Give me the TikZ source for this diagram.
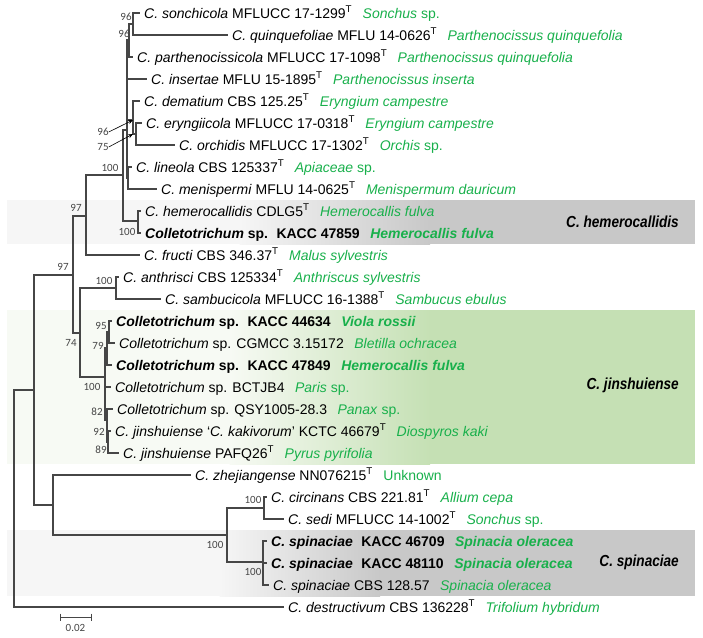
\documentclass[tikz,border=0pt]{standalone}
\usepackage{fontspec}
\setmainfont{Liberation Sans}
\newfontfamily\bootfont{Carlito}
\newfontfamily\cladefont[FakeStretch=0.85]{Liberation Sans}
\usetikzlibrary{arrows.meta,calc}
\definecolor{hostgreen}{RGB}{24,176,75}
\definecolor{treegray}{RGB}{70,70,70}
\definecolor{boxgray}{RGB}{200,200,200}
\definecolor{boxgraylt}{RGB}{246,246,246}
\definecolor{boxgreen}{RGB}{197,224,180}
\definecolor{boxgreenlt}{RGB}{247,250,244}
\newcommand{\typ}{\textsuperscript{T}}
\newcommand{\host}[1]{\hspace{0.75em}\textcolor{hostgreen}{#1}}
\newcommand{\gen}{\textit{Colletotrichum}}
\newcommand{\ours}[2]{\textbf{#1\hspace{0.6em}#2}}
\begin{document}
\begin{tikzpicture}[
    x=1pt, y=-1pt,
    branch/.style={draw=treegray, line width=1.1pt},
    tip/.style={anchor=west, inner xsep=4pt, inner ysep=0pt, text height=10pt, text depth=0pt, font=\fontsize{14}{16}\selectfont},
    boot/.style={inner sep=0pt, text=treegray, font=\bootfont\fontsize{11}{12}\selectfont},
    clade/.style={anchor=east, inner sep=0pt, font=\cladefont\bfseries\itshape\fontsize{16}{18}\selectfont},
    ptr/.style={-{Stealth[length=5pt,width=4pt]}, line width=0.6pt, black}
]
\useasboundingbox (0,0) rectangle (703,637);

% --- clade boxes ---
\fill[boxgraylt] (7,200) rectangle (240,244);
\shade[left color=boxgraylt, right color=boxgray] (239.5,200) rectangle (430,244);
\fill[boxgray] (429.5,200) rectangle (695,244);

\fill[boxgreenlt] (7,310) rectangle (230,464);
\shade[left color=boxgreenlt, right color=boxgreen] (229.5,310) rectangle (430,464);
\fill[boxgreen] (429.5,310) rectangle (695,464);

\fill[boxgraylt] (7,530) rectangle (220,596);
\shade[left color=boxgraylt, right color=boxgray] (219.5,530) rectangle (380,596);
\fill[boxgray] (379.5,530) rectangle (695,596);

% --- internal nodes ---
\coordinate (r) at (14,498);
\coordinate (n34) at (34,390);
\coordinate (nA) at (73,275);
\coordinate (nH) at (86,216);
\coordinate (nU) at (123,175);
\coordinate (nW) at (127,130);
\coordinate (nT2) at (129,40);
\coordinate (nT1) at (133,24);
\coordinate (nD) at (133,120);
\coordinate (nE) at (136,134);
\coordinate (nL) at (128,178);
\coordinate (nHem) at (138,221);
\coordinate (nB) at (80,333);
\coordinate (nAS) at (116,288);
\coordinate (nJ) at (105,377);
\coordinate (nP2) at (107,348);
\coordinate (nP1) at (109,332);
\coordinate (nQ) at (107,420);
\coordinate (nQ2) at (108,442);
\coordinate (nZ) at (53,505);
\coordinate (nS) at (227,535);
\coordinate (nCS) at (264,508);
\coordinate (nSP) at (263,562);

% --- tips ---
\node[tip] (sonch) at (140,13) {\textit{C. sonchicola} MFLUCC 17-1299\typ\host{\textit{Sonchus} sp.}};
\node[tip] (quinq) at (228,35) {\textit{C. quinquefoliae} MFLU 14-0626\typ\host{\textit{Parthenocissus quinquefolia}}};
\node[tip] (parth) at (133,57) {\textit{C. parthenocissicola} MFLUCC 17-1098\typ\host{\textit{Parthenocissus quinquefolia}}};
\node[tip] (inser) at (147,79) {\textit{C. insertae} MFLU 15-1895\typ\host{\textit{Parthenocissus inserta}}};
\node[tip] (demat) at (140,101) {\textit{C. dematium} CBS 125.25\typ\host{\textit{Eryngium campestre}}};
\node[tip] (eryng) at (142,123) {\textit{C. eryngiicola} MFLUCC 17-0318\typ\host{\textit{Eryngium campestre}}};
\node[tip] (orchi) at (175,145) {\textit{C. orchidis} MFLUCC 17-1302\typ\host{\textit{Orchis} sp.}};
\node[tip] (lineo) at (132,167) {\textit{C. lineola} CBS 125337\typ\host{\textit{Apiaceae} sp.}};
\node[tip] (menis) at (157,189) {\textit{C. menispermi} MFLU 14-0625\typ\host{\textit{Menispermum dauricum}}};
\node[tip] (hemer) at (141,211) {\textit{C. hemerocallidis} CDLG5\typ\host{\textit{Hemerocallis fulva}}};
\node[tip] (k47859) at (141,233) {\ours{\gen{} sp.}{KACC 47859}\host{\textbf{\textit{Hemerocallis fulva}}}};
\node[tip] (fruct) at (140,255) {\textit{C. fructi} CBS 346.37\typ\host{\textit{Malus sylvestris}}};
\node[tip] (anthr) at (119,277) {\textit{C. anthrisci} CBS 125334\typ\host{\textit{Anthriscus sylvestris}}};
\node[tip] (sambu) at (161,299) {\textit{C. sambucicola} MFLUCC 16-1388\typ\host{\textit{Sambucus ebulus}}};
\node[tip] (k44634) at (112,321) {\ours{\gen{} sp.}{KACC 44634}\host{\textbf{\textit{Viola rossii}}}};
\node[tip] (cgmcc) at (115,343) {\gen{} sp. CGMCC 3.15172\host{\textit{Bletilla ochracea}}};
\node[tip] (k47849) at (112,365) {\ours{\gen{} sp.}{KACC 47849}\host{\textbf{\textit{Hemerocallis fulva}}}};
\node[tip] (bctjb) at (111,387) {\gen{} sp. BCTJB4\host{\textit{Paris} sp.}};
\node[tip] (qsy) at (113,409) {\gen{} sp. QSY1005-28.3\host{\textit{Panax} sp.}};
\node[tip] (kakiv) at (111,431) {\textit{C. jinshuiense} ‘\textit{C. kakivorum}’ KCTC 46679\typ\host{\textit{Diospyros kaki}}};
\node[tip] (pafq) at (119,453) {\textit{C. jinshuiense} PAFQ26\typ\host{\textit{Pyrus pyrifolia}}};
\node[tip] (zheji) at (191,475) {\textit{C. zhejiangense} NN076215\typ\host{Unknown}};
\node[tip] (circi) at (267,497) {\textit{C. circinans} CBS 221.81\typ\host{\textit{Allium cepa}}};
\node[tip] (sedi) at (284,519) {\textit{C. sedi} MFLUCC 14-1002\typ\host{\textit{Sonchus} sp.}};
\node[tip] (k46709) at (267,541) {\ours{\textit{C. spinaciae}}{KACC 46709}\host{\textbf{\textit{Spinacia oleracea}}}};
\node[tip] (k48110) at (267,563) {\ours{\textit{C. spinaciae}}{KACC 48110}\host{\textbf{\textit{Spinacia oleracea}}}};
\node[tip] (cbs128) at (269,585) {\textit{C. spinaciae} CBS 128.57\host{\textit{Spinacia oleracea}}};
\node[tip] (destr) at (284,607) {\textit{C. destructivum} CBS 136228\typ\host{\textit{Trifolium hybridum}}};

% --- branches ---
\foreach \p/\c in {r/n34, r/destr, n34/nA, n34/nZ, nA/nH, nA/nB,
    nH/nU, nH/fruct, nU/nW, nU/nHem, nW/nT2, nW/inser, nW/nD, nW/nL,
    nT2/nT1, nT2/parth, nT1/sonch, nT1/quinq, nD/demat, nD/nE,
    nE/eryng, nE/orchi, nL/lineo, nL/menis, nHem/hemer, nHem/k47859,
    nB/nAS, nB/nJ, nAS/anthr, nAS/sambu, nJ/nP2, nJ/bctjb, nJ/nQ,
    nP2/nP1, nP2/k47849, nP1/k44634, nP1/cgmcc, nQ/qsy, nQ/nQ2,
    nQ2/kakiv, nQ2/pafq, nZ/zheji, nZ/nS, nS/nCS, nS/nSP,
    nCS/circi, nCS/sedi, nSP/k46709, nSP/k48110, nSP/cbs128}
    \draw[branch] (\p) |- (\c);

% --- bootstrap values ---
\node[boot] (bT1) at (126,17) {96};
\node[boot] (bT2) at (124,34) {96};
\node[boot] (bD) at (103,132) {96};
\node[boot] (bE) at (103,147) {75};
\node[boot] (bU) at (110,168) {100};
\node[boot] (bH) at (76,208) {97};
\node[boot] (bHem) at (127,232) {100};
\node[boot] (bA) at (63,267) {97};
\node[boot] (bAS) at (104,281) {100};
\node[boot] (bP1) at (101,326) {95};
\node[boot] (bP2) at (98,346) {79};
\node[boot] (bB) at (71,343) {74};
\node[boot] (bJ) at (92,387) {100};
\node[boot] (bQ) at (97,412) {82};
\node[boot] (bQ2) at (99,432) {92};
\node[boot] (bQ3) at (101,450) {89};
\node[boot] (bCS) at (253,500) {100};
\node[boot] (bS) at (215,545) {100};
\node[boot] (bSP) at (253,572) {100};

\draw[ptr] (bD.east) -- (nD);
\draw[ptr] (bE.east) -- ([xshift=-3pt]nE);

% --- clade names ---
\node[clade] (cHem) at (679,222) {C. hemerocallidis};
\node[clade] (cJin) at (679,385) {C. jinshuiense};
\node[clade] (cSpi) at (679,562) {C. spinaciae};

% --- scale bar ---
\coordinate (sbl) at (60,617);
\coordinate (sbr) at (91,617);
\draw[branch, line width=0.9pt] (sbl) -- (sbr);
\draw[branch, line width=0.9pt] ([yshift=3.5pt]sbl) -- ([yshift=-3.5pt]sbl);
\draw[branch, line width=0.9pt] ([yshift=3.5pt]sbr) -- ([yshift=-3.5pt]sbr);
\node[boot] (sbt) at ($(sbl)!0.5!(sbr)+(0,11)$) {0.02};

\end{tikzpicture}
\end{document}
